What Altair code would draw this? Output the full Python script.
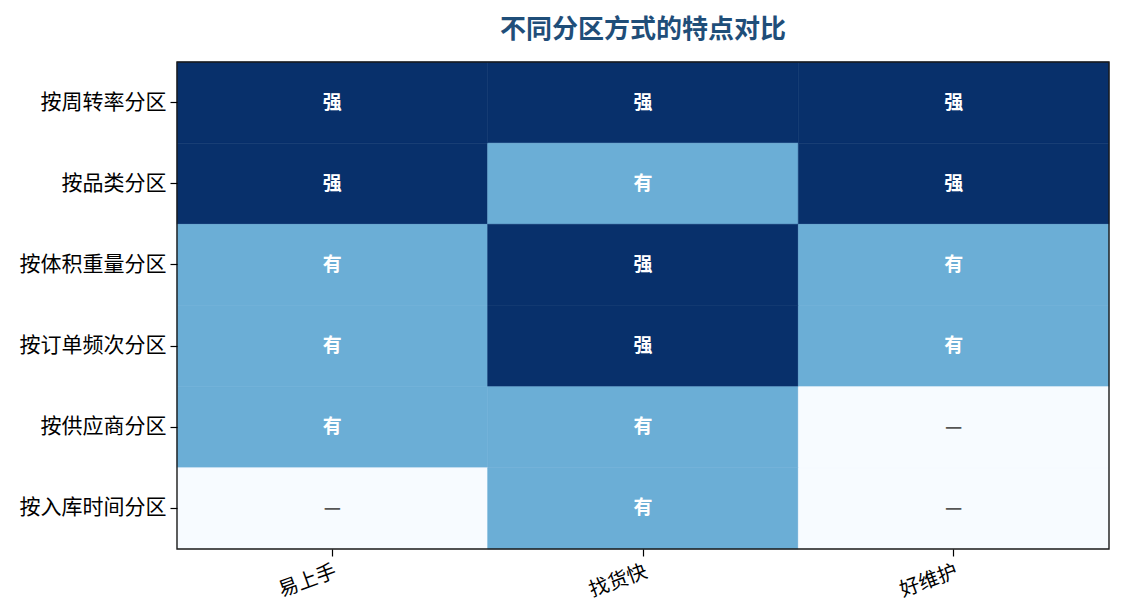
import altair as alt
import pandas as pd

methods = ["按周转率分区", "按品类分区", "按体积重量分区", "按订单频次分区", "按供应商分区", "按入库时间分区"]
features = ["易上手", "找货快", "好维护"]
levels = [
    [2, 2, 2],
    [2, 1, 2],
    [1, 2, 1],
    [1, 2, 1],
    [1, 1, 0],
    [0, 1, 0],
]
level_text = {2: "强", 1: "有", 0: "—"}

rows = []
for m, row in zip(methods, levels):
    for f, v in zip(features, row):
        rows.append({"method": m, "feature": f, "level": v, "label": level_text[v]})
df = pd.DataFrame(rows)

FONT = "Noto Sans CJK SC"
W, H = 932, 487
colscale = alt.Scale(domain=[0, 1, 2], range=["#f7fbff", "#6baed6", "#08306b"])

x = alt.X("feature:N", sort=features, title=None,
          axis=alt.Axis(labelAngle=-20, labelAlign="right", labelBaseline="top",
                        labelFontSize=20, labelColor="#000000", labelFont=FONT,
                        tickColor="#000000", tickSize=7, tickWidth=1.2, domain=False, labelPadding=5))
y = alt.Y("method:N", sort=methods, title=None,
          axis=alt.Axis(labelFontSize=21, labelColor="#000000", labelFont=FONT,
                        tickColor="#000000", tickSize=7, tickWidth=1.2, domain=False, labelPadding=4))

rect = alt.Chart(df).mark_rect(strokeWidth=0.6).encode(
    x=x, y=y,
    color=alt.Color("level:Q", scale=colscale, legend=None),
    stroke=alt.Stroke("level:Q", scale=colscale, legend=None),
)

text = alt.Chart(df).mark_text(font=FONT, fontSize=19, fontWeight="bold").encode(
    x=alt.X("feature:N", sort=features),
    y=alt.Y("method:N", sort=methods),
    text="label:N",
    color=alt.condition(alt.datum.level > 0, alt.value("#ffffff"), alt.value("#555555")),
)

border = alt.Chart(pd.DataFrame({"b": [0]})).mark_rect(
    fillOpacity=0, stroke="#1a1a1a", strokeWidth=1.4
).encode(x=alt.value(0), x2=alt.value(W), y=alt.value(0), y2=alt.value(H))

chart = (rect + text + border).properties(
    width=W, height=H,
    title=alt.TitleParams("不同分区方式的特点对比", font=FONT, fontSize=26, fontWeight="bold",
                          color="#1f4e79", anchor="middle", offset=18),
    autosize=alt.AutoSizeParams(type="none"),
    padding={"left": 169, "top": 54, "right": 8, "bottom": 60},
).configure(background="#ffffff").configure_view(strokeWidth=0)

chart.save("out.html", embed_options={"renderer": "svg", "actions": False})
